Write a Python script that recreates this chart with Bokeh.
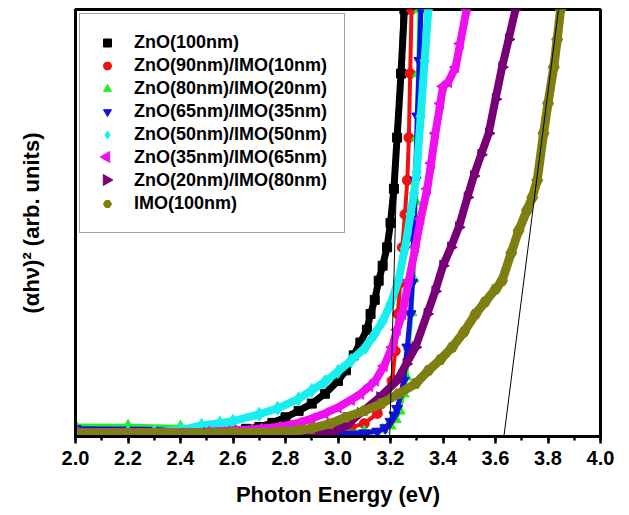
from bokeh.plotting import figure
from bokeh.models import (Legend, LegendItem, SingleIntervalTicker, PrintfTickFormatter,
                          FixedTicker, ColumnDataSource)
from bokeh.embed import file_html
from bokeh.resources import INLINE

# ---- data (x: photon energy eV, y: arbitrary units 0-100) ----
labels = ["ZnO(100nm)", "ZnO(90nm)/IMO(10nm)", "ZnO(80nm)/IMO(20nm)", "ZnO(65nm)/IMO(35nm)",
          "ZnO(50nm)/IMO(50nm)", "ZnO(35nm)/IMO(65nm)", "ZnO(20nm)/IMO(80nm)", "IMO(100nm)"]

zno100_e = [2.0, 2.2, 2.4, 2.5, 2.6, 2.65, 2.7, 2.75, 2.8, 2.85, 2.9, 2.95, 3.0, 3.03, 3.06, 3.085,
            3.11, 3.124, 3.14, 3.155, 3.17, 3.187, 3.2, 3.213, 3.225, 3.24, 3.253]
zno100_v = [1.0, 1.0, 1.0, 1.1, 1.4, 1.8, 2.2, 3.2, 4.5, 6.0, 7.7, 10.0, 13.0, 15.5, 19.0, 22.0,
            25.0, 28.7, 32.0, 36.5, 40.0, 44.3, 50.0, 58.0, 70.0, 85.0, 100.0]

zno90_e = [2.0, 2.5, 2.8, 2.95, 3.05, 3.1, 3.15, 3.18, 3.206, 3.218, 3.228, 3.237, 3.245, 3.255,
           3.264, 3.27, 3.275, 3.28]
zno90_v = [1.2, 1.2, 1.3, 1.6, 2.2, 3.0, 5.4, 8.5, 13.0, 20.0, 28.7, 36.0, 44.3, 52.0,
           60.0, 70.0, 85.0, 100.0]

zno80_e = [2.0, 2.2, 2.4, 2.6, 2.8, 3.0, 3.1, 3.17, 3.2, 3.22, 3.235, 3.25, 3.26, 3.27, 3.28,
           3.287, 3.292, 3.296, 3.3, 3.305, 3.31]
zno80_v = [2.6, 2.5, 2.3, 1.9, 1.5, 1.1, 1.2, 1.6, 2.5, 4.0, 6.0, 10.0, 14.0, 21.0, 29.0,
           37.0, 45.0, 55.0, 70.0, 85.0, 100.0]

zno65_e = [2.0, 2.5, 2.8, 3.0, 3.1, 3.15, 3.18, 3.2, 3.215, 3.225, 3.24, 3.25, 3.264, 3.276,
           3.283, 3.288, 3.295, 3.302, 3.31, 3.316]
zno65_v = [1.8, 1.6, 1.2, 0.8, 0.8, 1.2, 2.0, 3.5, 5.0, 6.5, 10.0, 13.1, 20.9, 28.7,
           36.0, 46.0, 60.0, 75.0, 88.0, 100.0]

zno50_e = [2.0, 2.2, 2.3, 2.4, 2.48, 2.55, 2.6, 2.7, 2.77, 2.85, 2.9, 2.95, 3.0, 3.05, 3.105,
           3.14, 3.17, 3.2, 3.23, 3.255, 3.276, 3.29, 3.3, 3.315, 3.33, 3.344]
zno50_v = [0.9, 0.9, 1.0, 1.5, 2.6, 3.1, 3.6, 5.2, 6.6, 8.8, 10.8, 12.8, 15.2, 17.8, 20.9,
           24.0, 27.0, 31.0, 36.5, 44.0, 52.0, 57.0, 62.0, 75.0, 88.0, 100.0]

zno35_e = [2.0, 2.5, 2.6, 2.7, 2.77, 2.85, 2.9, 2.95, 3.0, 3.05, 3.086, 3.12, 3.143, 3.175,
           3.206, 3.225, 3.245, 3.27, 3.295, 3.315, 3.34, 3.355, 3.371, 3.39, 3.4, 3.42,
           3.448, 3.465, 3.49]
zno35_v = [1.0, 1.1, 1.4, 1.8, 2.2, 3.2, 4.2, 5.4, 6.8, 8.6, 10.0, 11.8, 13.1, 16.5,
           20.9, 25.0, 28.7, 36.5, 44.3, 51.0, 58.0, 64.0, 71.0, 78.0, 82.0, 83.0,
           86.5, 92.0, 100.0]

zno20_e = [2.0, 2.5, 2.8, 2.9, 2.97, 3.03, 3.086, 3.16, 3.225, 3.26, 3.295, 3.34, 3.37, 3.4,
           3.43, 3.46, 3.493, 3.517, 3.545, 3.574, 3.6, 3.625, 3.65, 3.676]
zno20_v = [0.8, 0.8, 0.8, 0.7, 0.9, 2.5, 5.5, 9.2, 13.1, 17.0, 20.9, 28.7, 34.0, 40.0,
           44.3, 49.0, 56.0, 61.0, 66.0, 71.0, 79.0, 86.5, 93.0, 100.0]

imo100_e = [2.0, 2.3, 2.6, 2.77, 2.85, 2.9, 2.97, 3.03, 3.1, 3.165, 3.23, 3.296, 3.345, 3.39,
            3.435, 3.48, 3.524, 3.56, 3.6, 3.625, 3.66, 3.688, 3.72, 3.74, 3.759, 3.783,
            3.8, 3.822, 3.835, 3.848]
imo100_v = [0.8, 0.8, 0.9, 1.0, 1.4, 1.9, 3.0, 4.5, 6.0, 7.7, 10.0, 12.4, 15.5, 18.0,
            20.9, 24.5, 28.7, 31.5, 34.5, 36.5, 43.0, 48.2, 53.0, 56.0, 60.0, 71.0,
            78.0, 86.5, 93.0, 100.0]

# tangent (linear fit) lines
fit_zno_e = [3.197, 3.24]
fit_zno_v = [0.0, 100.0]
fit_imo_e = [3.632, 3.84]
fit_imo_v = [0.0, 100.0]

x_ticks_interval = 0.2

# ---- layout ----
W, H = 621, 515
BL, BR, BT, BB = 75, 21, 9, 79
XMIN, XMAX, YMIN, YMAX = 2.0, 4.0, 0.0, 100.0

p = figure(width=W, height=H, x_range=(XMIN, XMAX), y_range=(YMIN, YMAX),
           output_backend="svg", toolbar_location=None,
           min_border_left=BL, min_border_right=BR, min_border_top=BT, min_border_bottom=BB)
p.xgrid.visible = False
p.ygrid.visible = False
p.outline_line_color = "black"
p.outline_line_width = 3
p.background_fill_color = "white"
p.border_fill_color = "white"

FONT = "Liberation Sans"

xa = p.xaxis[0]
xa.ticker = SingleIntervalTicker(interval=x_ticks_interval, num_minor_ticks=2)
xa.formatter = PrintfTickFormatter(format="%.1f")
xa.axis_line_width = 3
xa.axis_line_color = "black"
xa.major_tick_out = 7
xa.major_tick_in = 0
xa.minor_tick_out = 4
xa.minor_tick_in = 0
xa.major_tick_line_width = 2.5
xa.minor_tick_line_width = 2.5
xa.major_tick_line_color = "black"
xa.minor_tick_line_color = "black"
xa.major_label_text_font = FONT
xa.major_label_text_font_style = "bold"
xa.major_label_text_font_size = "20px"
xa.major_label_text_color = "black"
xa.major_label_standoff = 7
xa.axis_label = "Photon Energy (eV)"
xa.axis_label_text_font = FONT
xa.axis_label_text_font_style = "bold"
xa.axis_label_text_font_size = "22px"
xa.axis_label_text_color = "black"
xa.axis_label_standoff = 14

ya = p.yaxis[0]
ya.ticker = FixedTicker(ticks=[])
ya.axis_line_width = 3
ya.axis_line_color = "black"
ya.major_tick_line_color = None
ya.minor_tick_line_color = None
ya.major_label_text_font_size = "0px"
ya.axis_label = "(\u03b1h\u03bd)\u00b2 (arb. units)"
ya.axis_label_text_font = FONT
ya.axis_label_text_font_style = "bold"
ya.axis_label_text_font_size = "22px"
ya.axis_label_text_color = "black"
ya.axis_label_standoff = 32

series = [
    (zno100_e, zno100_v, "black", "square", 9, 7, None),
    (zno90_e, zno90_v, "#ee1111", "circle", 10, 4, None),
    (zno80_e, zno80_v, "#22ee22", "triangle", 11, 4, None),
    (zno65_e, zno65_v, "#1111dd", "inverted_triangle", 11, 5, None),
    (zno50_e, zno50_v, "#18eeee", "diamond", 14, 8, None),
    (zno35_e, zno35_v, "#ee11ee", "triangle", 11, 8, 1.5708),
    (zno20_e, zno20_v, "#770077", "triangle", 11, 8, -1.5708),
    (imo100_e, imo100_v, "#7f7f11", "hex", 11, 9, None),
]

# legend geometry (screen px)
LEG_MARGIN, LEG_PAD, LEG_ROW, GLYPH_W = 4, 17, 23, 20
frame_w = W - BL - BR
frame_h = H - BT - BB

items = []
side_syms = []
for k, ((e, v, col, mk, sz, lw, ang), lab) in enumerate(zip(series, labels)):
    src = ColumnDataSource(dict(x=e, y=v, a=[ang or 0.0] * len(e)))
    p.line("x", "y", source=src, line_color=col, line_width=lw, line_join="round", line_cap="round")
    r = p.scatter("x", "y", source=src, marker=mk, size=sz, fill_color=col, line_color=col, angle="a")
    if ang is None:
        items.append(LegendItem(label=lab, renderers=[r]))
    else:
        # sideways triangles: the legend cannot rotate markers, so draw the symbol separately
        dummy = p.scatter(x=[], y=[], marker="circle", size=0, fill_alpha=0, line_alpha=0)
        items.append(LegendItem(label=lab, renderers=[dummy]))
        px = LEG_MARGIN + LEG_PAD + GLYPH_W / 2
        py = LEG_MARGIN + LEG_PAD + LEG_ROW * k + LEG_ROW / 2
        lx = XMIN + px / frame_w * (XMAX - XMIN)
        ly = YMAX - py / frame_h * (YMAX - YMIN)
        side_syms.append((lx, ly, ang, col))

# legend symbols for the sideways triangles (drawn beneath a transparent legend)
p.scatter([s[0] for s in side_syms], [s[1] for s in side_syms], marker="triangle", size=11,
          angle=[s[2] for s in side_syms], fill_color=[s[3] for s in side_syms],
          line_color=[s[3] for s in side_syms])

p.line(fit_zno_e, fit_zno_v, line_color="black", line_width=1)
p.line(fit_imo_e, fit_imo_v, line_color="black", line_width=1)

legend = Legend(items=items, location="top_left", margin=LEG_MARGIN, padding=LEG_PAD, spacing=0,
                label_height=LEG_ROW, glyph_height=LEG_ROW, glyph_width=GLYPH_W, label_standoff=17,
                label_text_font=FONT, label_text_font_style="bold", label_text_font_size="18px",
                label_text_color="black", border_line_color="#444444", border_line_width=1,
                background_fill_alpha=0.0)
p.add_layout(legend)

open("out.html", "w").write(file_html(p, INLINE))
